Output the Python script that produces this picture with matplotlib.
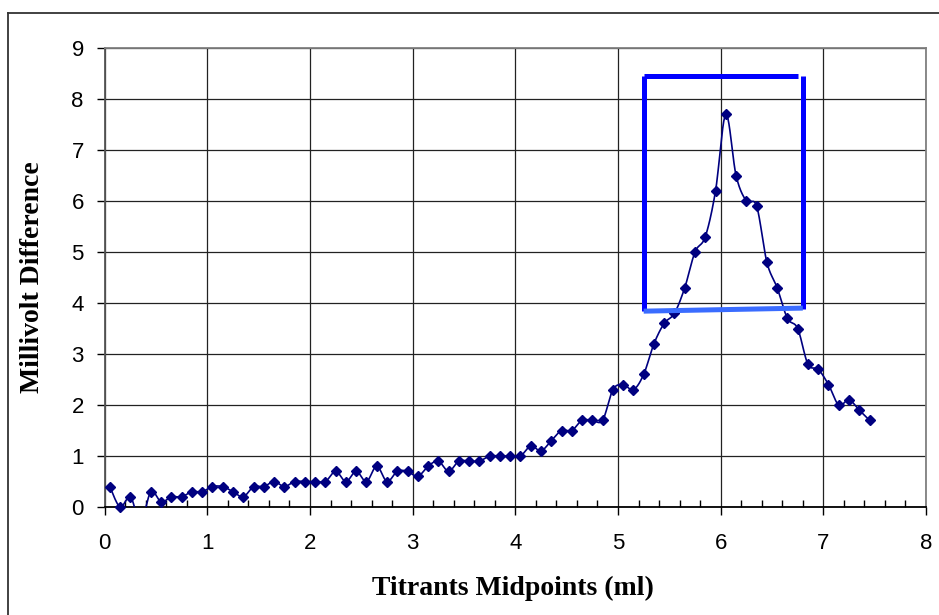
import numpy as np
import matplotlib
matplotlib.use("Agg")
import matplotlib.pyplot as plt
from matplotlib.lines import Line2D
from matplotlib.ticker import MultipleLocator

# ---- data ----
midpoints = [0.05, 0.15, 0.25, 0.35, 0.45, 0.55, 0.65, 0.75, 0.85, 0.95,
             1.05, 1.15, 1.25, 1.35, 1.45, 1.55, 1.65, 1.75, 1.85, 1.95,
             2.05, 2.15, 2.25, 2.35, 2.45, 2.55, 2.65, 2.75, 2.85, 2.95,
             3.05, 3.15, 3.25, 3.35, 3.45, 3.55, 3.65, 3.75, 3.85, 3.95,
             4.05, 4.15, 4.25, 4.35, 4.45, 4.55, 4.65, 4.75, 4.85, 4.95,
             5.05, 5.15, 5.25, 5.35, 5.45, 5.55, 5.65, 5.75, 5.85, 5.95,
             6.05, 6.15, 6.25, 6.35, 6.45, 6.55, 6.65, 6.75, 6.85, 6.95,
             7.05, 7.15, 7.25, 7.35, 7.45]
mv_diff = [0.4, 0.0, 0.2, -0.3, 0.3, 0.1, 0.2, 0.2, 0.3, 0.3,
           0.4, 0.4, 0.3, 0.2, 0.4, 0.4, 0.5, 0.4, 0.5, 0.5,
           0.5, 0.5, 0.7, 0.5, 0.7, 0.5, 0.8, 0.5, 0.7, 0.7,
           0.6, 0.8, 0.9, 0.7, 0.9, 0.9, 0.9, 1.0, 1.0, 1.0,
           1.0, 1.2, 1.1, 1.3, 1.5, 1.5, 1.7, 1.7, 1.7, 2.3,
           2.4, 2.3, 2.6, 3.2, 3.6, 3.8, 4.3, 5.0, 5.3, 6.2,
           7.7, 6.5, 6.0, 5.9, 4.8, 4.3, 3.7, 3.5, 2.8, 2.7,
           2.4, 2.0, 2.1, 1.9, 1.7]
x_ticks = [0, 1, 2, 3, 4, 5, 6, 7, 8]
y_ticks = [0, 1, 2, 3, 4, 5, 6, 7, 8, 9]
x_label = "Titrants Midpoints (ml)"
y_label = "Millivolt Difference"
# hand-drawn highlight box (data coordinates): left, right, bottom, top
box_left, box_right, box_bottom, box_top = 5.25, 6.80, 3.84, 8.45


def smooth_curve(x, y, steps=20):
    """Excel-style smoothed line (Catmull-Rom / cubic Bezier) through the points."""
    x = np.asarray(x, float)
    y = np.asarray(y, float)
    px = np.concatenate([[x[0]], x, [x[-1]]])
    py = np.concatenate([[y[0]], y, [y[-1]]])
    xs, ys = [], []
    t = np.linspace(0, 1, steps, endpoint=False)
    for i in range(1, len(px) - 2):
        p0, p1, p2, p3 = (np.array([px[j], py[j]]) for j in (i - 1, i, i + 1, i + 2))
        c1 = p1 + (p2 - p0) / 6.0
        c2 = p2 - (p3 - p1) / 6.0
        b = ((1 - t) ** 3)[:, None] * p1 + (3 * (1 - t) ** 2 * t)[:, None] * c1 \
            + (3 * (1 - t) * t ** 2)[:, None] * c2 + (t ** 3)[:, None] * p2
        xs.append(b[:, 0]); ys.append(b[:, 1])
    xs.append([x[-1]]); ys.append([y[-1]])
    return np.concatenate(xs), np.concatenate(ys)


W, H = 939, 615
fig = plt.figure(figsize=(W / 100, H / 100), dpi=100)
fig.patch.set_facecolor("white")

L, R, B, T = 104.7, 926, 507, 48
ax = fig.add_axes([L / W, 1 - B / H, (R - L) / W, (B - T) / H])

navy = "#000080"
sx, sy = smooth_curve(midpoints, mv_diff)
ax.plot(sx, sy, color=navy, lw=1.2, zorder=3)
ax.plot(midpoints, np.ma.masked_less(np.asarray(mv_diff), 0), ls="none",
        marker="D", ms=5.0, color=navy, clip_on=False, zorder=4)

ax.set_xlim(0, 8)
ax.set_ylim(0, 9)
ax.set_xticks(x_ticks)
ax.set_yticks(y_ticks)
ax.xaxis.set_minor_locator(MultipleLocator(0.2))
ax.grid(True, which="major", color="#222222", lw=0.9, zorder=1)
ax.set_axisbelow(True)

ax.tick_params(axis="x", which="major", direction="out", length=6, width=1.0,
               labelsize=16, pad=13, color="black")
ax.tick_params(axis="x", which="minor", direction="in", length=5, width=1.0,
               color="black")
ax.tick_params(axis="y", which="major", direction="out", length=6, width=1.0,
               labelsize=16, pad=9, color="black")
for lab in ax.get_xticklabels() + ax.get_yticklabels():
    lab.set_fontfamily("Liberation Sans")

for side in ("top", "right"):
    ax.spines[side].set_color("#808080")
    ax.spines[side].set_linewidth(1.3)
ax.spines["left"].set_color("#555555")
ax.spines["left"].set_linewidth(1.3)
ax.spines["bottom"].set_color("black")
ax.spines["bottom"].set_linewidth(1.3)

ax.set_xlabel(x_label, fontfamily="Liberation Serif", fontweight="bold",
              fontsize=20, va="center")
ax.xaxis.set_label_coords(0.497, (B - 588) / (B - T))
ax.set_ylabel(y_label, fontfamily="Liberation Serif", fontweight="bold",
              fontsize=20, va="center")
ax.yaxis.set_label_coords((33 - L) / (R - L), 0.5)

# highlight box (hand drawn style lines)
blue = "#0000ff"
light_blue = "#3a6cff"
ax.plot([box_left, box_left], [box_bottom, box_top], color=blue, lw=3.6,
        solid_capstyle="butt", clip_on=False, zorder=5)
ax.plot([box_left, box_right - 0.05], [box_top, box_top], color=blue, lw=3.6,
        solid_capstyle="butt", clip_on=False, zorder=5)
ax.plot([box_right, box_right], [box_bottom + 0.05, box_top], color=blue, lw=3.6,
        solid_capstyle="butt", clip_on=False, zorder=5)
ax.plot([box_left, box_right], [box_bottom, box_bottom + 0.06], color=light_blue,
        lw=3.6, solid_capstyle="butt", clip_on=False, zorder=5)

# outer chart frame
fig.add_artist(Line2D([8 / W, 8 / W], [0, 1 - 13 / H], color="#333333", lw=1.3))
fig.add_artist(Line2D([8 / W, 1], [1 - 13 / H, 1 - 13 / H], color="#333333", lw=1.3))

fig.savefig("out.png", dpi=100)
